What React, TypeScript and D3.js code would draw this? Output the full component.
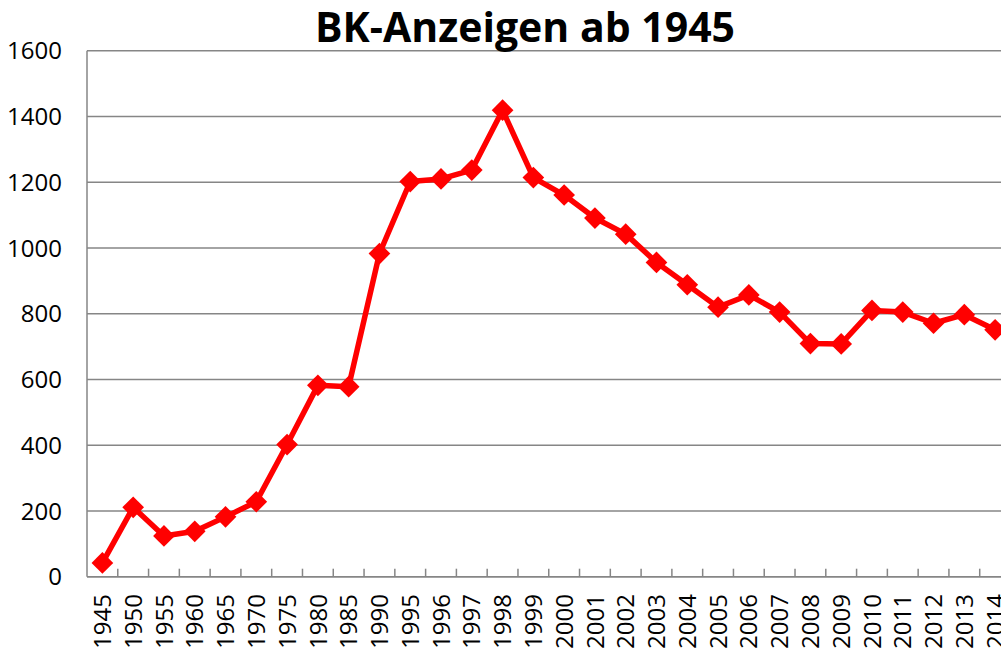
import * as d3 from "d3";

const years = [
  "1945", "1950", "1955", "1960", "1965", "1970", "1975", "1980", "1985", "1990",
  "1995", "1996", "1997", "1998", "1999", "2000", "2001", "2002", "2003", "2004",
  "2005", "2006", "2007", "2008", "2009", "2010", "2011", "2012", "2013", "2014",
];

const anzeigen = [
  42, 211, 124, 138, 182, 228, 402, 582, 578, 983,
  1202, 1210, 1237, 1419, 1214, 1161, 1091, 1042, 956, 888,
  820, 857, 805, 709, 708, 810, 805, 771, 797, 751,
];

const yTicks = [0, 200, 400, 600, 800, 1000, 1200, 1400, 1600];

const title = "BK-Anzeigen ab 1945";

const W = 1001;
const H = 650;
const plot = { left: 87, right: 1010.5, top: 50.7, bottom: 576.7 };
const font = "'Open Sans', 'Noto Sans', sans-serif";
const grid = "#868686";

export default function App() {
  const x = d3.scaleBand<string>().domain(years).range([plot.left, plot.right]);
  const y = d3.scaleLinear().domain([0, 1600]).range([plot.bottom, plot.top]);

  const cx = (d: string) => (x(d) ?? 0) + x.bandwidth() / 2;

  const line = d3
    .line<number>()
    .x((_, i) => cx(years[i]))
    .y((d) => y(d));

  const diamond = d3.symbol().type(d3.symbolDiamond2).size(300)();

  return (
    <svg
      width={W}
      height={H}
      style={{ position: "absolute", left: 0, top: 0, background: "#fff" }}
    >
      {/* gridlines */}
      {yTicks.map((t) => (
        <line
          key={t}
          x1={plot.left}
          x2={plot.right}
          y1={y(t)}
          y2={y(t)}
          stroke={grid}
          strokeWidth={1.5}
        />
      ))}

      {/* axes */}
      <line x1={plot.left} x2={plot.left} y1={plot.top} y2={plot.bottom} stroke={grid} strokeWidth={1.5} />
      <line x1={plot.left} x2={plot.right} y1={plot.bottom} y2={plot.bottom} stroke={grid} strokeWidth={1.5} />
      {years.slice(1).map((yr) => (
        <line
          key={yr}
          x1={x(yr)}
          x2={x(yr)}
          y1={plot.bottom}
          y2={plot.bottom - 8}
          stroke={grid}
          strokeWidth={1.5}
        />
      ))}

      {/* y labels */}
      {yTicks.map((t) => (
        <text
          key={t}
          x={62}
          y={y(t)}
          dy="0.36em"
          textAnchor="end"
          fontFamily={font}
          fontSize={24}
          fill="#000"
        >
          {t}
        </text>
      ))}

      {/* x labels */}
      {years.map((yr) => (
        <text
          key={yr}
          transform={`translate(${cx(yr)},594) rotate(-90)`}
          dy="0.36em"
          textAnchor="end"
          fontFamily={font}
          fontSize={24}
          fill="#000"
        >
          {yr}
        </text>
      ))}

      {/* series */}
      <path d={line(anzeigen) ?? ""} fill="none" stroke="#ff0000" strokeWidth={5.5} strokeLinejoin="round" />
      {anzeigen.map((v, i) => (
        <path key={i} d={diamond ?? ""} transform={`translate(${cx(years[i])},${y(v)})`} fill="#ff0000" />
      ))}

      <text
        x={525}
        y={42}
        textAnchor="middle"
        fontFamily={font}
        fontWeight="bold"
        fontSize={41}
        fill="#000"
      >
        {title}
      </text>
    </svg>
  );
}
